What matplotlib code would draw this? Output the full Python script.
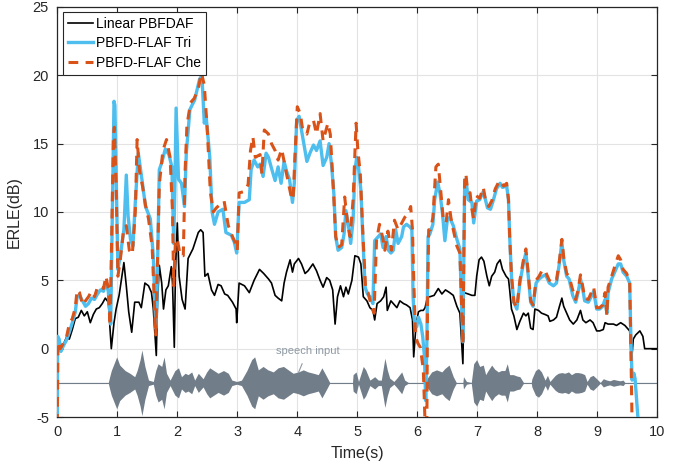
import matplotlib
matplotlib.use('Agg')
import matplotlib.pyplot as plt

plt.rcParams['font.family'] = ['Liberation Sans', 'DejaVu Sans']
plt.rcParams['axes.unicode_minus'] = False

# Linear PBFDAF (black)
t_lin = [0.00, 0.02, 0.05, 0.10, 0.15, 0.20, 0.25, 0.30, 0.35, 0.40, 0.45, 0.50, 0.55, 0.60, 0.65, 0.70,
         0.75, 0.80, 0.85, 0.90, 0.945, 0.98, 1.03, 1.11, 1.15, 1.19, 1.24, 1.29, 1.36, 1.40, 1.46, 1.52,
         1.57, 1.60, 1.65, 1.67, 1.70, 1.74, 1.77, 1.81, 1.85, 1.90, 1.92, 1.95, 1.97, 2.00, 2.03, 2.08,
         2.13, 2.18, 2.26, 2.35, 2.39, 2.43, 2.46, 2.51, 2.57, 2.62, 2.68, 2.73, 2.79, 2.84, 2.92, 2.98,
         2.99, 3.03, 3.12, 3.20, 3.28, 3.37, 3.44, 3.52, 3.57, 3.63, 3.68, 3.74, 3.78, 3.82, 3.88, 3.92,
         3.95, 4.02, 4.07, 4.13, 4.18, 4.26, 4.32, 4.38, 4.43, 4.49, 4.54, 4.59, 4.63, 4.67, 4.72, 4.77,
         4.81, 4.85, 4.91, 4.96, 5.02, 5.06, 5.10, 5.16, 5.21, 5.26, 5.29, 5.33, 5.39, 5.44, 5.48, 5.50,
         5.56, 5.60, 5.66, 5.71, 5.77, 5.82, 5.88, 5.92, 5.94, 5.98, 6.02, 6.06, 6.10, 6.13, 6.17, 6.21,
         6.28, 6.35, 6.41, 6.47, 6.54, 6.60, 6.66, 6.71, 6.76, 6.78, 6.85, 6.91, 6.96, 6.99, 7.03, 7.07,
         7.11, 7.16, 7.20, 7.24, 7.29, 7.33, 7.38, 7.42, 7.48, 7.52, 7.54, 7.57, 7.61, 7.66, 7.71, 7.77,
         7.81, 7.85, 7.89, 7.93, 7.96, 8.02, 8.07, 8.13, 8.18, 8.21, 8.27, 8.32, 8.37, 8.41, 8.44, 8.49,
         8.54, 8.60, 8.66, 8.72, 8.76, 8.81, 8.88, 8.93, 8.99, 9.04, 9.10, 9.13, 9.18, 9.27, 9.32, 9.39,
         9.46, 9.54, 9.57, 9.60, 9.64, 9.71, 9.76, 9.79, 9.88, 10.0]
erle_lin = [0.0, 0.2, 0.1, 0.3, 0.8, 0.7, 1.4, 2.2, 2.3, 2.8, 2.4, 2.7, 1.9, 2.5, 2.9, 3.0,
            3.3, 3.7, 3.4, 0.0, 1.9, 2.9, 3.9, 6.3, 4.6, 2.7, 1.2, 3.4, 3.4, 3.0, 4.8, 4.6,
            4.1, 2.9, -0.5, 3.4, 6.1, 4.8, 2.9, 4.3, 4.6, 6.0, 4.8, 0.1, 5.8, 9.2, 5.3, 3.6,
            2.9, 6.6, 7.3, 8.5, 8.7, 8.5, 5.3, 5.5, 4.3, 3.9, 4.7, 4.6, 4.0, 3.9, 3.4, 2.9,
            1.9, 4.8, 4.6, 4.1, 5.0, 5.8, 5.5, 5.1, 4.8, 3.9, 3.7, 3.5, 4.8, 5.6, 6.5, 5.6,
            6.2, 6.6, 6.2, 5.5, 5.7, 6.2, 5.7, 5.0, 4.5, 5.2, 5.0, 4.3, 1.8, 3.8, 4.6, 3.8,
            4.5, 4.0, 5.0, 6.8, 6.7, 6.2, 3.8, 3.5, 3.0, 2.8, 2.1, 3.3, 3.5, 3.8, 4.5, 2.8,
            3.5, 3.3, 3.0, 3.5, 3.3, 3.2, 3.0, 2.1, -0.6, 1.8, 2.7, 2.8, 2.8, 3.0, 3.8, 3.8,
            3.9, 4.4, 4.0, 4.3, 4.1, 3.9, 3.1, 2.6, -1.1, 4.1, 4.0, 3.9, 3.9, 5.3, 6.5, 6.7,
            6.4, 5.3, 4.6, 5.3, 5.6, 6.2, 6.5, 5.8, 5.3, 5.1, 4.3, 2.9, 2.4, 1.4, 2.0, 2.6,
            2.4, 2.6, 1.5, 1.4, 2.9, 2.8, 2.6, 2.5, 2.4, 2.0, 2.1, 2.3, 3.1, 3.7, 3.1, 2.6,
            2.1, 1.8, 2.1, 2.8, 2.1, 1.9, 2.1, 1.9, 1.3, 1.3, 1.4, 1.9, 1.8, 1.8, 1.7, 1.9,
            1.7, 1.3, -1.0, 0.7, 1.0, 1.3, 0.9, 0.0, 0.0, 0.0]

# PBFD-FLAF Tri (blue)
t_tri = [0.00, 0.005, 0.03, 0.06, 0.10, 0.15, 0.20, 0.25, 0.30, 0.33, 0.37, 0.42, 0.47, 0.52, 0.57, 0.62,
         0.67, 0.72, 0.77, 0.81, 0.85, 0.89, 0.945, 0.96, 0.98, 1.01, 1.05, 1.11, 1.15, 1.18, 1.22, 1.26,
         1.30, 1.35, 1.41, 1.47, 1.55, 1.60, 1.64, 1.66, 1.70, 1.74, 1.80, 1.86, 1.91, 1.94, 1.96, 1.98,
         2.02, 2.07, 2.12, 2.15, 2.21, 2.29, 2.37, 2.41, 2.45, 2.48, 2.54, 2.58, 2.62, 2.68, 2.76, 2.81,
         2.90, 2.95, 2.99, 3.03, 3.12, 3.20, 3.23, 3.28, 3.34, 3.38, 3.43, 3.48, 3.52, 3.57, 3.63, 3.68,
         3.73, 3.78, 3.82, 3.87, 3.92, 3.95, 3.99, 4.03, 4.10, 4.16, 4.21, 4.27, 4.32, 4.38, 4.43, 4.49,
         4.53, 4.57, 4.61, 4.64, 4.68, 4.74, 4.78, 4.81, 4.85, 4.89, 4.93, 4.96, 4.99, 5.02, 5.06, 5.09,
         5.13, 5.17, 5.21, 5.26, 5.29, 5.35, 5.39, 5.43, 5.48, 5.52, 5.56, 5.60, 5.64, 5.68, 5.74, 5.77,
         5.82, 5.88, 5.91, 5.93, 5.95, 5.99, 6.02, 6.06, 6.09, 6.12, 6.14, 6.16, 6.18, 6.21, 6.26, 6.29,
         6.34, 6.38, 6.42, 6.46, 6.50, 6.54, 6.60, 6.66, 6.71, 6.74, 6.76, 6.79, 6.81, 6.85, 6.91, 6.94,
         6.99, 7.04, 7.10, 7.13, 7.17, 7.22, 7.27, 7.32, 7.38, 7.42, 7.49, 7.52, 7.54, 7.57, 7.61, 7.66,
         7.71, 7.77, 7.81, 7.85, 7.89, 7.93, 7.98, 8.03, 8.09, 8.14, 8.20, 8.27, 8.32, 8.37, 8.41, 8.44,
         8.49, 8.53, 8.59, 8.64, 8.68, 8.72, 8.76, 8.79, 8.85, 8.91, 8.94, 8.99, 9.04, 9.09, 9.13, 9.16,
         9.18, 9.24, 9.29, 9.35, 9.39, 9.43, 9.49, 9.54, 9.56, 9.58, 9.61, 9.63, 9.68, 9.70]
erle_tri = [-5.5, 0.9, 0.7, -0.2, 0.2, 0.6, 1.2, 1.9, 2.7, 3.8, 3.9, 3.5, 3.1, 3.3, 3.7, 3.6,
            4.0, 4.3, 4.2, 4.8, 4.2, 1.8, 18.1, 17.8, 13.1, 5.8, 6.8, 8.7, 12.7, 9.7, 8.0, 7.5,
            10.7, 14.3, 12.4, 10.4, 9.5, 6.8, 1.5, 3.4, 13.1, 13.6, 14.6, 14.2, 13.3, 7.7, 11.9, 17.6,
            12.4, 12.1, 10.4, 14.3, 17.5, 18.2, 19.7, 20.0, 16.5, 17.0, 14.1, 10.0, 9.1, 10.0, 10.2, 8.5,
            8.3, 7.8, 7.0, 10.7, 10.7, 10.9, 13.1, 13.8, 13.3, 13.5, 12.6, 14.3, 14.0, 13.2, 12.3, 13.3,
            12.1, 13.7, 13.0, 12.4, 10.7, 12.1, 16.7, 17.0, 15.2, 13.7, 14.3, 14.9, 14.5, 15.2, 13.4, 14.0,
            15.0, 13.5, 11.3, 8.2, 7.2, 7.4, 8.4, 10.1, 9.1, 7.7, 9.4, 13.0, 14.0, 13.3, 11.6, 8.4,
            4.5, 4.0, 3.8, 3.3, 7.9, 8.2, 8.4, 7.4, 8.2, 7.2, 7.0, 7.2, 8.7, 7.7, 8.2, 8.9,
            9.1, 8.9, 8.7, 3.8, 2.1, 1.6, 2.3, 1.8, 0.9, -0.6, -3.8, 0.5, 8.2, 8.4, 9.1, 10.9,
            12.2, 11.3, 9.9, 7.9, 9.4, 9.6, 9.0, 8.0, 7.3, 2.9, 0.5, 12.1, 12.4, 10.9, 10.7, 9.2,
            10.8, 10.9, 11.5, 11.0, 10.3, 10.2, 10.9, 11.7, 12.1, 11.8, 11.9, 10.9, 8.2, 5.3, 3.4, 2.9,
            4.8, 6.3, 7.0, 5.3, 3.4, 3.1, 4.8, 5.1, 5.3, 5.4, 4.8, 4.6, 4.8, 6.3, 7.8, 6.5,
            5.3, 5.1, 3.9, 3.4, 4.1, 5.1, 4.3, 3.5, 3.4, 3.9, 4.2, 2.9, 2.9, 3.1, 3.6, 2.6,
            4.1, 5.1, 5.6, 6.2, 6.2, 5.6, 5.3, 4.8, 0.9, -2.3, -1.8, -2.2, -5.2, -6.0]

# PBFD-FLAF Che (orange, dashed)
t_che = [0.00, 0.01, 0.05, 0.10, 0.15, 0.20, 0.25, 0.30, 0.33, 0.37, 0.42, 0.47, 0.52, 0.57, 0.62, 0.67,
         0.72, 0.77, 0.81, 0.85, 0.88, 0.935, 0.95, 0.98, 1.01, 1.05, 1.10, 1.15, 1.20, 1.25, 1.30, 1.33,
         1.37, 1.42, 1.47, 1.52, 1.58, 1.64, 1.70, 1.76, 1.82, 1.88, 1.92, 1.94, 1.97, 2.00, 2.05, 2.10,
         2.13, 2.16, 2.22, 2.28, 2.35, 2.40, 2.45, 2.50, 2.55, 2.60, 2.65, 2.70, 2.78, 2.85, 2.92, 2.96,
         3.00, 3.03, 3.12, 3.18, 3.22, 3.26, 3.30, 3.38, 3.41, 3.45, 3.52, 3.57, 3.63, 3.68, 3.74, 3.82,
         3.90, 3.93, 3.96, 4.00, 4.05, 4.09, 4.16, 4.21, 4.27, 4.32, 4.38, 4.43, 4.51, 4.55, 4.60, 4.64,
         4.68, 4.74, 4.79, 4.84, 4.88, 4.93, 4.98, 5.01, 5.05, 5.09, 5.14, 5.18, 5.24, 5.28, 5.32, 5.37,
         5.42, 5.46, 5.51, 5.57, 5.62, 5.68, 5.73, 5.79, 5.85, 5.89, 5.92, 5.94, 5.97, 6.01, 6.05, 6.10,
         6.13, 6.16, 6.17, 6.19, 6.22, 6.26, 6.31, 6.35, 6.39, 6.43, 6.48, 6.52, 6.56, 6.60, 6.66, 6.71,
         6.74, 6.76, 6.79, 6.81, 6.84, 6.88, 6.91, 6.94, 6.98, 7.04, 7.10, 7.14, 7.19, 7.24, 7.30, 7.37,
         7.44, 7.49, 7.52, 7.54, 7.57, 7.61, 7.66, 7.71, 7.77, 7.81, 7.85, 7.89, 7.93, 7.98, 8.03, 8.09,
         8.14, 8.20, 8.27, 8.32, 8.37, 8.41, 8.44, 8.49, 8.53, 8.59, 8.64, 8.68, 8.72, 8.76, 8.79, 8.85,
         8.91, 8.94, 8.99, 9.04, 9.09, 9.13, 9.16, 9.18, 9.24, 9.29, 9.35, 9.39, 9.43, 9.49, 9.54, 9.56,
         9.58]
erle_che = [-5.5, 0.5, 0.0, 0.4, 0.8, 1.8, 2.2, 3.0, 4.3, 4.1, 3.2, 3.5, 3.8, 4.2, 3.8, 4.5,
            4.6, 4.4, 5.3, 4.4, 1.7, 15.5, 16.2, 12.0, 5.3, 6.5, 8.5, 9.0, 7.2, 6.9, 10.0, 15.3,
            13.0, 11.9, 10.5, 9.5, 7.5, 1.0, 12.0, 14.5, 15.3, 14.0, 10.0, 4.6, 8.0, 8.0, 6.8, 6.8,
            13.0, 16.3, 18.0, 18.3, 19.0, 20.2, 19.3, 16.0, 11.5, 10.0, 10.3, 10.5, 10.8, 9.0, 8.2, 7.8,
            7.2, 11.4, 11.5, 12.0, 14.5, 15.5, 14.0, 14.2, 12.8, 16.0, 15.7, 15.0, 14.5, 13.8, 14.6, 12.8,
            11.1, 10.9, 14.0, 17.7, 17.2, 16.0, 15.7, 16.6, 16.7, 15.7, 17.2, 15.2, 16.5, 15.7, 11.8, 8.2,
            7.4, 7.6, 11.1, 9.1, 8.2, 10.9, 16.5, 14.5, 12.8, 8.7, 4.3, 4.1, 3.0, 2.6, 7.9, 9.1,
            8.2, 7.2, 8.6, 7.2, 9.4, 8.7, 9.1, 9.6, 9.9, 10.4, 8.7, 5.2, 0.9, 0.4, 0.1, -1.5,
            -5.5, -5.5, 3.0, 8.7, 8.7, 9.6, 13.3, 13.5, 11.6, 9.6, 9.2, 10.9, 9.6, 8.7, 7.5, 7.0,
            3.0, 0.3, 12.6, 12.8, 11.5, 11.4, 10.2, 9.5, 11.2, 11.0, 11.8, 10.8, 10.4, 10.8, 11.7, 12.3,
            11.9, 12.1, 10.9, 8.2, 5.3, 3.4, 3.0, 5.0, 6.5, 7.3, 5.5, 3.5, 3.2, 5.0, 5.3, 5.8,
            5.6, 5.0, 4.8, 5.0, 6.5, 8.0, 6.7, 5.5, 5.3, 4.3, 3.6, 4.3, 5.4, 4.5, 3.7, 3.6,
            4.2, 4.5, 3.0, 3.0, 3.2, 4.1, 2.4, 4.5, 5.3, 6.0, 6.8, 6.5, 5.8, 5.5, 4.9, 0.0,
            -5.5]

# speech input envelope (amplitude around its baseline)
t_sp = [0.00, 0.85, 0.87, 0.90, 0.99, 1.04, 1.13, 1.21, 1.29, 1.33, 1.38, 1.41, 1.46, 1.52, 1.60, 1.64,
        1.68, 1.74, 1.78, 1.82, 1.88, 1.96, 2.02, 2.07, 2.13, 2.18, 2.24, 2.29, 2.35, 2.43, 2.49, 2.54,
        2.61, 2.68, 2.77, 2.85, 2.91, 2.99, 3.07, 3.16, 3.24, 3.29, 3.35, 3.43, 3.51, 3.60, 3.68, 3.77,
        3.85, 3.93, 4.02, 4.10, 4.18, 4.27, 4.35, 4.41, 4.46, 4.52, 4.54, 4.92, 4.93, 4.98, 5.02, 5.10,
        5.14, 5.21, 5.29, 5.35, 5.40, 5.46, 5.50, 5.54, 5.61, 5.66, 5.74, 5.79, 5.85, 6.15, 6.16, 6.24,
        6.32, 6.41, 6.46, 6.53, 6.60, 6.65, 6.76, 6.77, 6.82, 6.90, 6.94, 6.99, 7.04, 7.10, 7.14, 7.18,
        7.24, 7.29, 7.35, 7.40, 7.46, 7.50, 7.54, 7.60, 7.66, 7.71, 7.77, 7.90, 7.91, 7.97, 8.02, 8.07,
        8.13, 8.17, 8.21, 8.30, 8.35, 8.41, 8.46, 8.52, 8.57, 8.63, 8.68, 8.74, 8.79, 8.83, 8.88, 8.93,
        8.99, 9.05, 9.10, 9.16, 9.21, 9.27, 9.32, 9.38, 9.43, 9.46, 10.0]
amp_sp = [0.03, 0.03, 0.4, 0.9, 1.9, 1.3, 0.9, 0.7, 0.45, 0.9, 1.7, 2.4, 1.2, 0.2, 0.1, 0.9,
          1.4, 1.2, 1.9, 0.7, 0.2, 0.9, 1.1, 0.45, 0.7, 0.6, 0.8, 0.2, 0.7, 0.3, 0.8, 1.1,
          0.9, 0.7, 0.9, 0.7, 0.2, 0.1, 0.2, 0.9, 1.7, 1.9, 0.95, 1.2, 0.95, 0.8, 1.1, 1.2,
          0.95, 0.7, 0.8, 0.95, 0.8, 0.7, 0.6, 1.1, 0.7, 0.2, 0.03, 0.03, 0.6, 0.8, 0.1, 1.2,
          0.95, 0.2, 0.45, 0.2, 0.2, 1.8, 0.95, 0.35, 0.1, 0.35, 0.8, 0.2, 0.03, 0.03, 0.3, 0.8,
          0.95, 0.8, 1.05, 1.3, 0.45, 0.03, 0.03, 0.45, 0.1, 0.03, 1.4, 1.7, 1.2, 1.3, 0.6, 0.9,
          1.3, 1.0, 0.8, 0.9, 0.9, 1.4, 0.6, 0.6, 0.5, 0.45, 0.03, 0.03, 0.3, 0.9, 1.05, 0.8,
          0.2, 0.55, 0.1, 0.55, 0.7, 0.75, 0.7, 0.8, 0.6, 0.75, 0.75, 0.7, 0.6, 0.1, 0.45, 0.55,
          0.3, 0.03, 0.3, 0.2, 0.15, 0.25, 0.2, 0.15, 0.2, 0.03, 0.03]
sp_base = -2.5

fig = plt.figure(figsize=(6.79, 4.65), dpi=100)
ax = fig.add_axes([0.0844, 0.1032, 0.8836, 0.8818])

sp_col = '#717d89'
ax.fill_between(t_sp, [sp_base - a for a in amp_sp], [sp_base + a for a in amp_sp],
                color=sp_col, lw=0, zorder=2)
ax.plot([0, 10], [sp_base, sp_base], color=sp_col, lw=0.8, zorder=2)

ax.plot(t_lin, erle_lin, color='black', lw=1.2, label='Linear PBFDAF', zorder=3)
ax.plot(t_tri, erle_tri, color='#4DBEEE', lw=2.4, label='PBFD-FLAF Tri', zorder=4)
ax.plot(t_che, erle_che, color='#D95319', lw=2.2, ls=(0, (3.2, 2.4)), label='PBFD-FLAF Che', zorder=5)

ax.annotate('speech input', xy=(4.02, -1.75), xytext=(4.17, -0.15), ha='center', va='center',
            fontsize=8, color='#8e99a4',
            arrowprops=dict(arrowstyle='-', color='#8e99a4', lw=0.8, shrinkA=4, shrinkB=0))

ax.set_xlim(0, 10)
ax.set_ylim(-5, 25)
ax.set_xticks(range(0, 11))
ax.set_yticks(range(-5, 26, 5))
ax.grid(True, color='#e3e3e3', lw=0.8)
ax.set_axisbelow(True)
ax.tick_params(direction='in', top=True, right=True, length=4, width=0.8, labelsize=10.5,
               colors='#262626', pad=6)
for s in ax.spines.values():
    s.set_color('#262626')
    s.set_linewidth(0.9)
ax.set_xlabel('Time(s)', fontsize=11.5, color='#262626', labelpad=5)
ax.set_ylabel('ERLE(dB)', fontsize=11.5, color='#262626', labelpad=8)

leg = ax.legend(loc='upper left', bbox_to_anchor=(0.0095, 0.988), borderaxespad=0,
                fontsize=10, handlelength=1.8, handletextpad=0.25, labelspacing=0.4,
                borderpad=0.35, fancybox=False, framealpha=1, edgecolor='#262626')
leg.get_frame().set_linewidth(0.8)

fig.savefig('out.png', dpi=100)
